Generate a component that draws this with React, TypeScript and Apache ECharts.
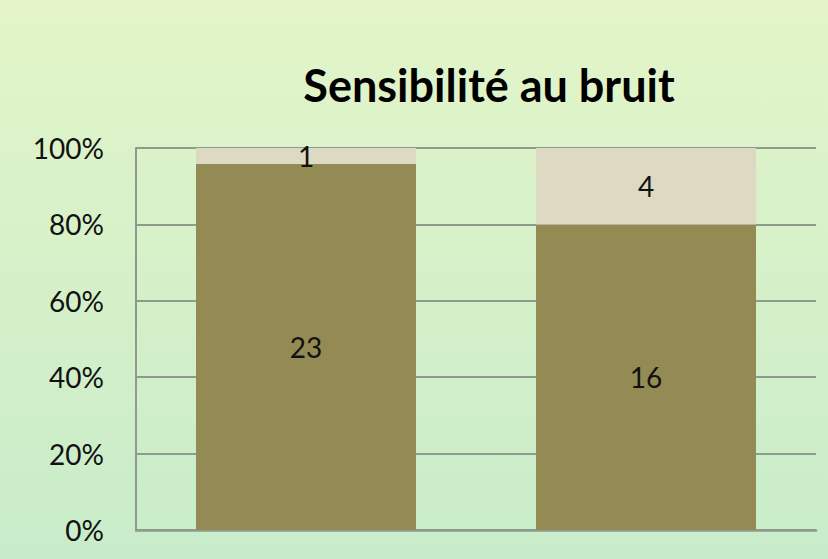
import React, { useEffect, useRef } from "react";
import * as echarts from "echarts";

const categories = ["Groupe 1", "Groupe 2"];
const sensibleCounts = [23, 16];
const autreCounts = [1, 4];
const yTicks = [0, 20, 40, 60, 80, 100];
const title = "Sensibilité au bruit";

export default function App() {
  const ref = useRef<HTMLDivElement>(null);
  useEffect(() => {
    if (!ref.current) return;
    const chart = echarts.init(ref.current, undefined, { renderer: "svg" });
    const totals = categories.map((_, i) => sensibleCounts[i] + autreCounts[i]);
    const pct = (arr: number[]) => arr.map((v, i) => (v / totals[i]) * 100);
    const font = "Lato, 'Open Sans', sans-serif";
    chart.setOption({
      animation: false,
      backgroundColor: {
        type: "linear",
        x: 0, y: 0, x2: 0, y2: 1,
        colorStops: [
          { offset: 0, color: "#e3f5c8" },
          { offset: 1, color: "#c8ecca" },
        ],
      },
      title: {
        text: title,
        left: 484,
        top: 57,
        textAlign: "center",
        textStyle: { fontFamily: font, fontWeight: "bold", fontSize: 45, color: "#000" },
      },
      grid: { left: 136, right: 12, top: 148, bottom: 29 },
      xAxis: {
        type: "category",
        data: categories,
        axisLine: { lineStyle: { color: "#8f9a8f", width: 2.5 } },
        axisTick: { show: false },
        axisLabel: { show: false },
      },
      yAxis: {
        type: "value",
        min: 0,
        max: 100,
        interval: 20,
        axisLine: { show: true, lineStyle: { color: "#8f9a8f", width: 2 } },
        axisTick: { show: false },
        splitLine: { lineStyle: { color: "#8f9a8f", width: 2 } },
        axisLabel: {
          margin: 32,
          fontFamily: font,
          fontSize: 28,
          color: "#111",
          formatter: (v: number) => (yTicks.includes(v) ? v + "%" : ""),
        },
      },
      series: [
        {
          type: "bar",
          stack: "total",
          barWidth: "64.7%",
          data: pct(sensibleCounts),
          itemStyle: { color: "#948a54" },
          label: {
            show: true,
            position: "inside",
            fontFamily: font,
            fontSize: 28,
            color: "#111",
            formatter: (p: any) => String(sensibleCounts[p.dataIndex]),
          },
        },
        {
          type: "bar",
          stack: "total",
          barWidth: "64.7%",
          data: pct(autreCounts),
          itemStyle: { color: "#ddd9c3" },
          label: {
            show: true,
            position: "inside",
            fontFamily: font,
            fontSize: 28,
            color: "#111",
            formatter: (p: any) => String(autreCounts[p.dataIndex]),
          },
        },
      ],
    });
    return () => chart.dispose();
  }, []);
  return (
    <div
      ref={ref}
      style={{ position: "fixed", left: 0, top: 0, width: 828, height: 559 }}
    />
  );
}
